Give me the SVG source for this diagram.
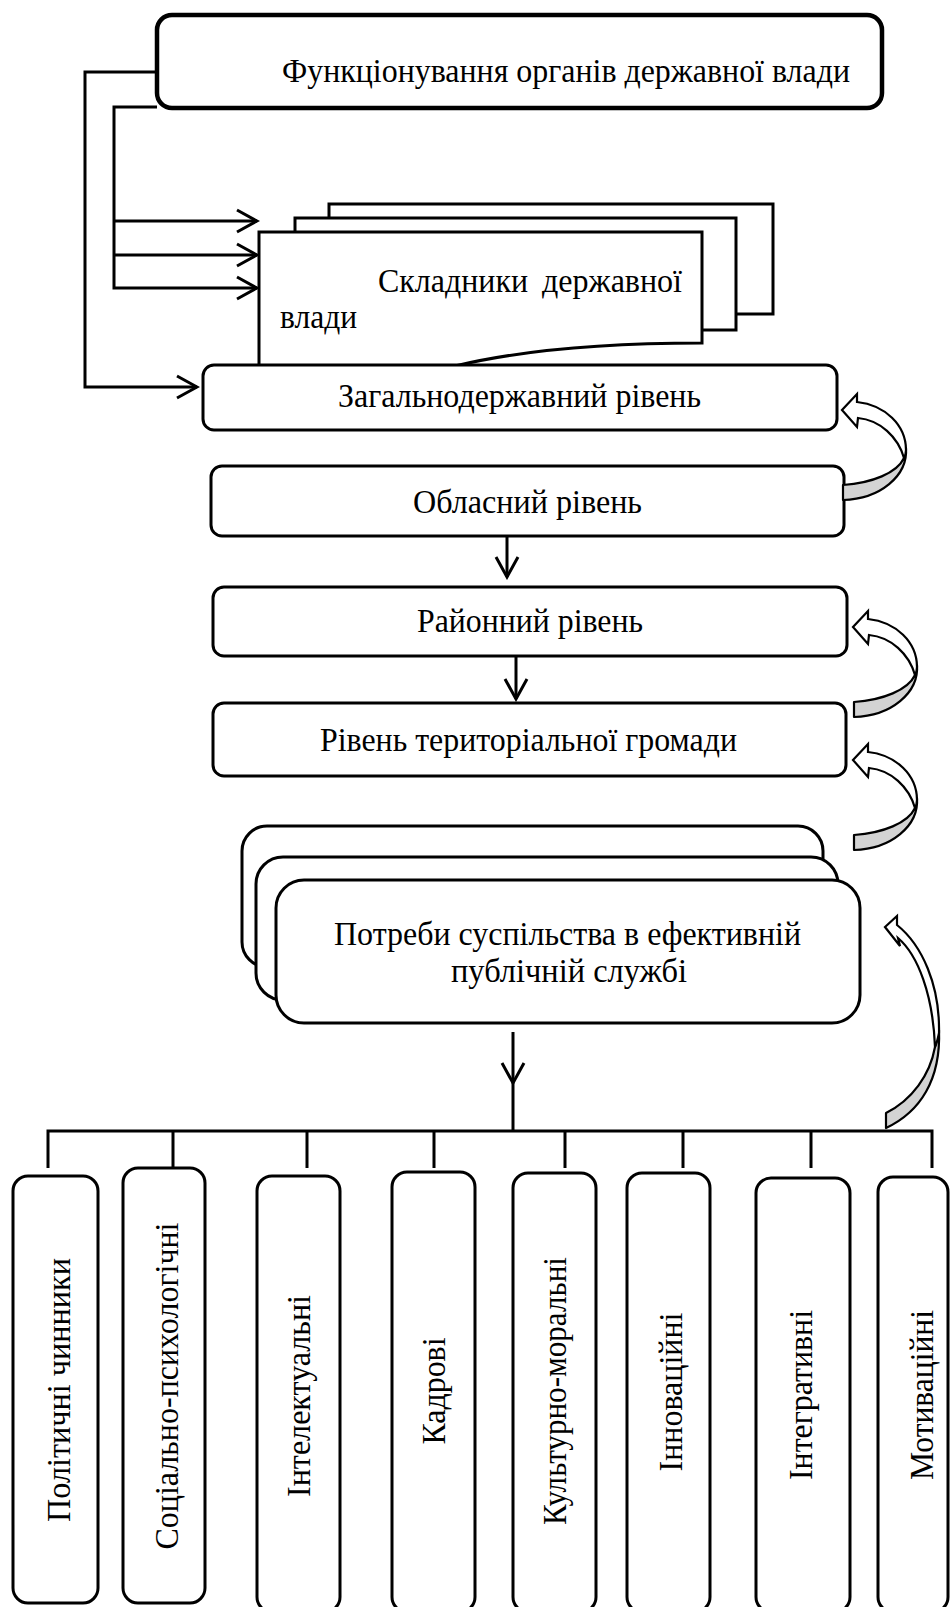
<svg xmlns="http://www.w3.org/2000/svg" width="950" height="1607" viewBox="0 0 950 1607">
<style>
 .box{fill:#fff;stroke:#000;stroke-width:3}
 .top{fill:#fff;stroke:#000;stroke-width:4.5}
 .t{font-family:"Liberation Serif","Times New Roman",serif;font-size:33px;fill:#000}
 .c{text-anchor:middle}
 .ln{fill:none;stroke:#000;stroke-width:3}
 .gray{fill:#d3d3d3;stroke:#000;stroke-width:2.2;stroke-linejoin:round}
 .wh{fill:#fff;stroke:#000;stroke-width:2.2;stroke-linejoin:miter}
</style>
<defs>
 <marker id="v" markerUnits="userSpaceOnUse" markerWidth="26" markerHeight="28" viewBox="-2 -2 26 28" refX="21" refY="12" orient="auto">
  <path d="M1,1 L21,12 L1,23" fill="none" stroke="#000" stroke-width="3"/>
 </marker>
 <g id="curved">
  <path class="gray" d="M64,38 C66,66 38,89 1,90 L1,75 C30,73 55,63 62,48 Z"/>
  <path class="wh" d="M0,0 L15,-16 L15,-8 C43,-5 64,15 64,40 C64,43 63,46 62,48 C56,27 38,10 16,8 L15,17 Z"/>
 </g>
</defs>
<rect width="950" height="1607" fill="#fff"/>

<g id="node-top">
 <rect class="top" x="157" y="15" width="725" height="93" rx="15"/>
 <text class="t" x="282" y="82" textLength="568" lengthAdjust="spacingAndGlyphs">Функціонування органів державної влади</text>
</g>

<g id="node-components">
 <rect class="box" x="329" y="204" width="444" height="110"/>
 <rect class="box" x="295" y="218" width="441" height="112"/>
 <path class="box" d="M259,232 H702 V343 C620,343 530,348 455,366 L259,366 Z"/>
 <text class="t" x="378" y="292"><tspan textLength="150" lengthAdjust="spacingAndGlyphs">Складники</tspan> <tspan x="542" textLength="140" lengthAdjust="spacingAndGlyphs">державної</tspan></text>
 <text class="t" x="280" y="328" textLength="77" lengthAdjust="spacingAndGlyphs">влади</text>
</g>

<g id="node-national">
 <rect class="box" x="203" y="365" width="634" height="65" rx="11"/>
 <text class="t" x="338" y="407" textLength="363" lengthAdjust="spacingAndGlyphs">Загальнодержавний рівень</text>
</g>
<g id="node-oblast">
 <rect class="box" x="211" y="466" width="633" height="70" rx="11"/>
 <text class="t" x="413" y="513" textLength="229" lengthAdjust="spacingAndGlyphs">Обласний рівень</text>
</g>
<g id="node-district">
 <rect class="box" x="213" y="587" width="634" height="69" rx="11"/>
 <text class="t" x="417" y="632" textLength="226" lengthAdjust="spacingAndGlyphs">Районний рівень</text>
</g>
<g id="node-community">
 <rect class="box" x="213" y="703" width="633" height="73" rx="11"/>
 <text class="t" x="320" y="751" textLength="417" lengthAdjust="spacingAndGlyphs">Рівень територіальної громади</text>
</g>

<g id="node-needs">
 <rect class="box" x="242" y="826" width="581" height="141" rx="25"/>
 <rect class="box" x="256" y="857" width="582" height="143" rx="27"/>
 <rect class="box" x="276" y="880" width="584" height="143" rx="28"/>
 <text class="t" x="334" y="945" textLength="467" lengthAdjust="spacingAndGlyphs">Потреби суспільства в ефективній</text>
 <text class="t" x="451" y="982" textLength="236" lengthAdjust="spacingAndGlyphs">публічній службі</text>
</g>

<g id="node-f1">
 <rect class="box" x="13" y="1176" width="85" height="427" rx="15"/>
 <text class="t c" transform="translate(70,1390) rotate(-90)" textLength="264" lengthAdjust="spacingAndGlyphs">Політичні чинники</text>
</g>
<g id="node-f2">
 <rect class="box" x="123" y="1168" width="82" height="435" rx="15"/>
 <text class="t c" transform="translate(178,1386) rotate(-90)" textLength="327" lengthAdjust="spacingAndGlyphs">Соціально-психологічні</text>
</g>
<g id="node-f3">
 <rect class="box" x="257" y="1176" width="83" height="436" rx="15"/>
 <text class="t c" transform="translate(310,1396) rotate(-90)" textLength="202" lengthAdjust="spacingAndGlyphs">Інтелектуальні</text>
</g>
<g id="node-f4">
 <rect class="box" x="392" y="1172" width="83" height="440" rx="15"/>
 <text class="t c" transform="translate(445,1391) rotate(-90)" textLength="107" lengthAdjust="spacingAndGlyphs">Кадрові</text>
</g>
<g id="node-f5">
 <rect class="box" x="513" y="1173" width="83" height="439" rx="15"/>
 <text class="t c" transform="translate(566,1391) rotate(-90)" textLength="268" lengthAdjust="spacingAndGlyphs">Культурно-моральні</text>
</g>
<g id="node-f6">
 <rect class="box" x="627" y="1173" width="83" height="439" rx="15"/>
 <text class="t c" transform="translate(682,1392) rotate(-90)" textLength="159" lengthAdjust="spacingAndGlyphs">Інноваційні</text>
</g>
<g id="node-f7">
 <rect class="box" x="756" y="1178" width="94" height="434" rx="15"/>
 <text class="t c" transform="translate(812,1395) rotate(-90)" textLength="170" lengthAdjust="spacingAndGlyphs">Інтегративні</text>
</g>
<g id="node-f8">
 <rect class="box" x="878" y="1177" width="70" height="435" rx="15"/>
 <text class="t c" transform="translate(933,1395) rotate(-90)" textLength="170" lengthAdjust="spacingAndGlyphs">Мотиваційні</text>
</g>

<g id="connectors">
 <path class="ln" d="M157,72 H85 V387 H197" marker-end="url(#v)"/>
 <path class="ln" d="M157,107 H114 V288 H257" marker-end="url(#v)"/>
 <path class="ln" d="M114,221 H257" marker-end="url(#v)"/>
 <path class="ln" d="M114,255 H257" marker-end="url(#v)"/>
 <path class="ln" d="M507,536 V577" marker-end="url(#v)"/>
 <path class="ln" d="M516,656 V699" marker-end="url(#v)"/>
 <path class="ln" d="M513,1032 V1083" marker-end="url(#v)"/>
 <path class="ln" d="M513,1083 V1131"/>
 <path class="ln" d="M48,1168 V1131 H932 V1168"/>
 <path class="ln" d="M173,1131 V1168 M307,1131 V1168 M434,1131 V1168 M565,1131 V1168 M683,1131 V1168 M811,1131 V1168"/>
 <use href="#curved" x="842" y="410"/>
 <use href="#curved" x="853" y="627"/>
 <use href="#curved" x="853" y="760"/>
 <path class="gray" d="M939,1030 C941,1080 920,1112 886,1128 L886,1113 C912,1100 930,1075 935,1047 Z"/>
 <path class="wh" d="M885,927 L897,916 L897,925 C922,945 940,985 939,1033 C938,1038 937,1043 935,1047 C933,995 918,955 898,938 L900,946 Z"/>
</g>
</svg>
